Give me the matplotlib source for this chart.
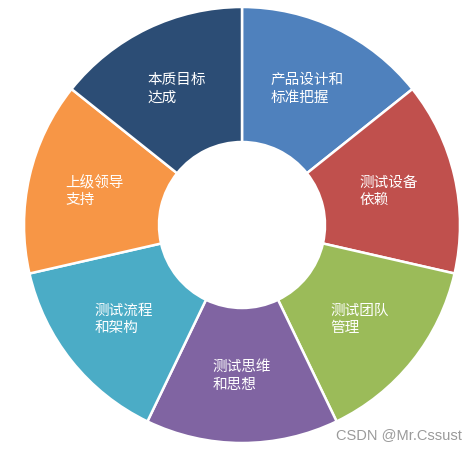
import numpy as np
import matplotlib
matplotlib.use('Agg')
import matplotlib.pyplot as plt

plt.rcParams['font.family'] = ['Noto Sans CJK SC', 'DejaVu Sans']

# 数据
labels = ['产品设计和\n标准把握', '测试设备\n依赖', '测试团队\n管理', '测试思维\n和思想',
          '测试流程\n和架构', '上级领导\n支持', '本质目标\n达成']
values = [1, 1, 1, 1, 1, 1, 1]
colors = ['#4F81BD', '#C0504D', '#9BBB59', '#8064A2', '#4BACC6', '#F79646', '#2C4D75']

W, H = 477, 450
fig = plt.figure(figsize=(W / 100, H / 100), dpi=100)
ax = fig.add_axes([0, 0, 1, 1])

cx, cy = 242, H - 225
R = 218
ring = 1 - 83 / R

wedges, _ = ax.pie(values, colors=colors, startangle=90, counterclock=False,
                   radius=R, center=(cx, cy), frame=True,
                   wedgeprops=dict(width=R * ring, edgecolor='white', linewidth=1.8))
ax.set_xlim(0, W)
ax.set_ylim(0, H)
ax.set_aspect('equal')
ax.axis('off')

# 标签
for w, lab in zip(wedges, labels):
    ang = np.deg2rad((w.theta1 + w.theta2) / 2)
    r = 151
    ax.text(cx + r * np.cos(ang), cy + r * np.sin(ang), lab, color='white',
            fontsize=10.5, ha='center', va='center', multialignment='left',
            linespacing=1.3)

# 水印
ax.text(462, H - 435, 'CSDN @Mr.Cssust', color='#9a9a9a', fontsize=10.5,
        ha='right', va='center', family=['Liberation Sans', 'DejaVu Sans'])

fig.savefig('out.png', dpi=100, facecolor='white')
